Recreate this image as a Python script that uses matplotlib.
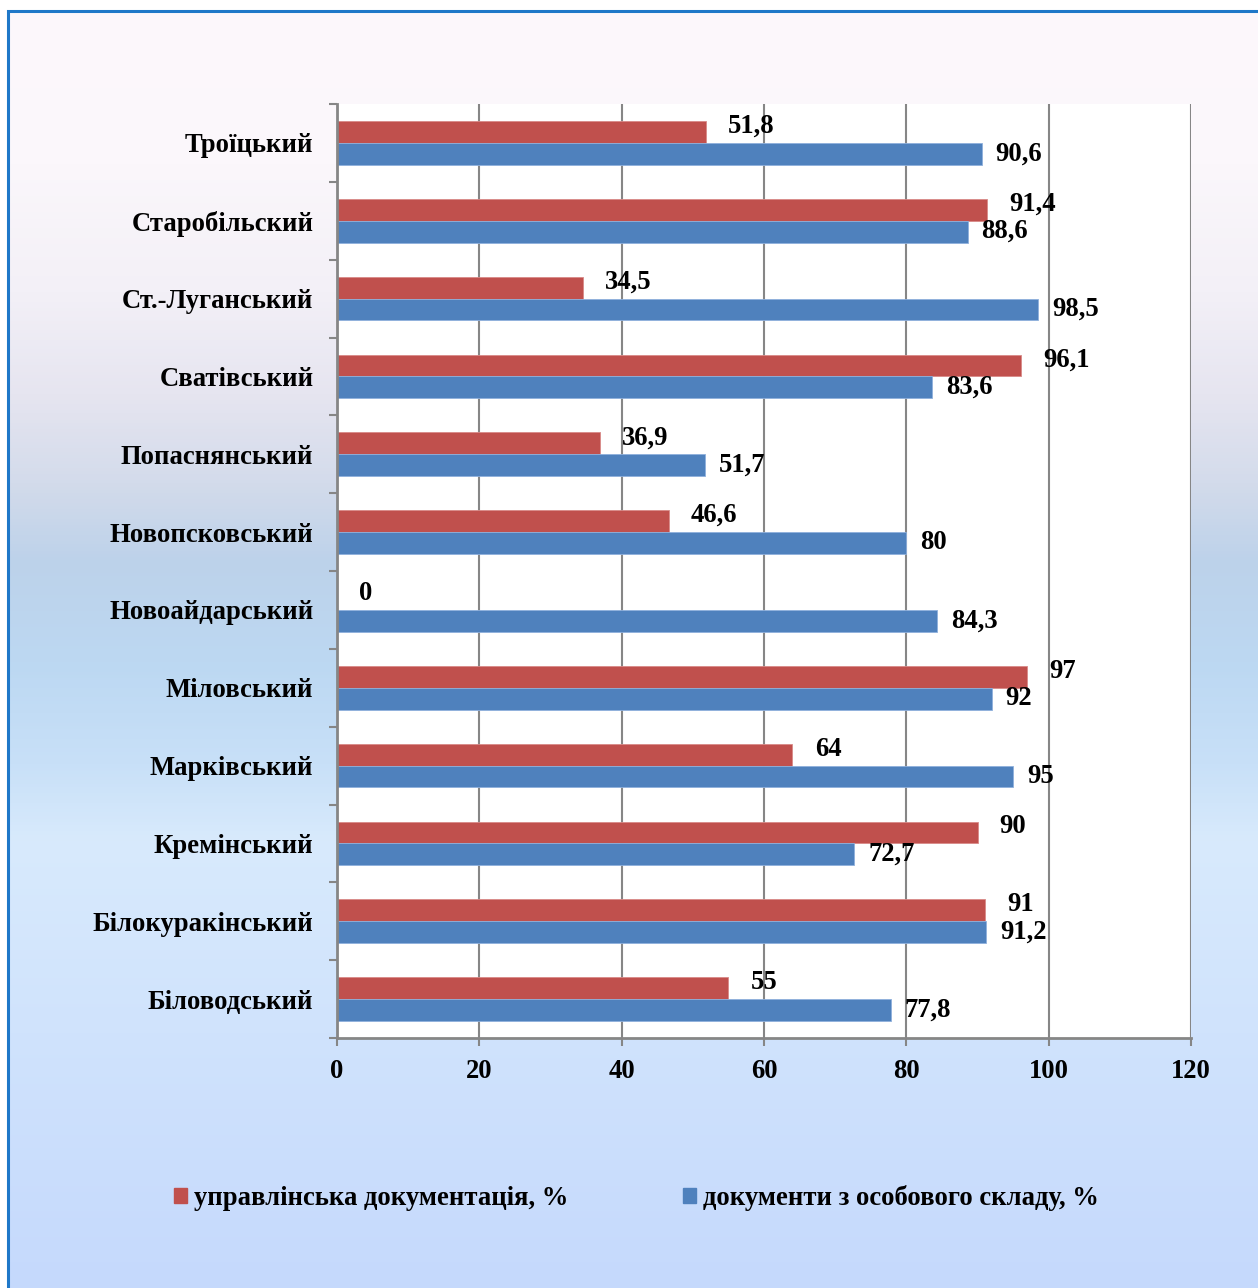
import numpy as np
import matplotlib
import matplotlib.pyplot as plt
from matplotlib.colors import to_rgb
from matplotlib.patches import Patch, Rectangle
matplotlib.use('agg')

# Districts, top to bottom as in the chart
districts = ['Троїцький', 'Старобільский', 'Ст.-Луганський', 'Сватівський',
             'Попаснянський', 'Новопсковський', 'Новоайдарський', 'Міловський',
             'Марківський', 'Кремінський', 'Білокуракінський', 'Біловодський']
# Management documentation, %
mgmt_docs = [51.8, 91.4, 34.5, 96.1, 36.9, 46.6, 0, 97, 64, 90, 91, 55]
# Personnel documents, %
staff_docs = [90.6, 88.6, 98.5, 83.6, 51.7, 80, 84.3, 92, 95, 72.7, 91.2, 77.8]
x_ticks = [0, 20, 40, 60, 80, 100, 120]
series_names = ['управлінська документація, %', 'документи з особового складу, %']

red = '#c0504d'
blue = '#4f81bd'
grid_gray = '#868686'
fs = 19.2

plt.rcParams['font.family'] = ['Liberation Serif', 'DejaVu Serif']
plt.rcParams['font.weight'] = 'bold'

W, H = 1258, 1288
fig = plt.figure(figsize=(W / 100, H / 100), dpi=100)

# Background gradient inside the blue frame
stops = [0.0, 0.12, 0.22, 0.30, 0.37, 0.43, 0.51, 0.59, 0.65, 0.80, 1.0]
cols = ['#fdf8fb', '#fbf7fb', '#f3f0f7', '#e6e5f0', '#d3dbeb', '#bdd2ea',
        '#bcd8f2', '#c8e0f8', '#d8eafc', '#d0e3fc', '#c5d9fc']
t = np.linspace(0, 1, 400)
rgb = np.array([to_rgb(c) for c in cols])
grad = np.stack([np.interp(t, stops, rgb[:, k]) for k in range(3)], axis=1)
bg = fig.add_axes([8 / W, 0, 1 - 8 / W, 1 - 11 / H], zorder=-10)
bg.imshow(grad[:, None, :], aspect='auto', extent=[0, 1, 1, 0])
bg.axis('off')
fig.patches.append(Rectangle((8 / W, -0.05), 1.1, 1.05 - 11 / H, transform=fig.transFigure,
                             fill=False, edgecolor='#1f78c8', linewidth=2.2, zorder=5))

ax = fig.add_axes([337 / W, 1 - 1038 / H, (1191 - 337) / W, (1038 - 104) / H])
ax.set_facecolor('white')

y = np.arange(len(districts))
h = 0.28
ax.barh(y - h / 2, mgmt_docs, height=h, color=red, edgecolor='#d88a88', linewidth=0.6, zorder=3)
ax.barh(y + h / 2, staff_docs, height=h, color=blue, edgecolor='#8fb0dc', linewidth=0.6, zorder=3)

def fmt(v):
    return f'{v:g}'.replace('.', ',')

for i in range(len(districts)):
    ax.annotate(fmt(mgmt_docs[i]), (mgmt_docs[i], y[i] - h / 2), xytext=(16, 4),
                textcoords='offset points', ha='left', va='center', fontsize=fs, fontweight='bold')
    ax.annotate(fmt(staff_docs[i]), (staff_docs[i], y[i] + h / 2), xytext=(10, 0),
                textcoords='offset points', ha='left', va='center', fontsize=fs, fontweight='bold')

ax.set_xlim(0, 120)
ax.set_ylim(len(districts) - 0.5, -0.5)
ax.set_xticks(x_ticks)
ax.set_xticklabels([str(v) for v in x_ticks], fontsize=fs, fontweight='bold')
ax.set_yticks(y)
ax.set_yticklabels(districts, fontsize=fs, fontweight='bold')
ax.set_yticks(np.arange(len(districts) + 1) - 0.5, minor=True)
ax.tick_params(axis='y', which='major', length=0, pad=17)
ax.tick_params(axis='y', which='minor', length=6, width=1.5, color=grid_gray)
ax.tick_params(axis='x', length=6, width=1.5, color=grid_gray, pad=9)

ax.grid(axis='x', color=grid_gray, linewidth=1.5, zorder=0)
ax.set_axisbelow(True)
for s in ['top', 'right']:
    ax.spines[s].set_visible(False)
for s in ['left', 'bottom']:
    ax.spines[s].set_color(grid_gray)
    ax.spines[s].set_linewidth(2)
    ax.spines[s].set_zorder(4)

handles = [Patch(color=red), Patch(color=blue)]
fig.legend(handles, series_names, loc='center', bbox_to_anchor=(636 / W, 1 - 1198 / H), ncol=2,
           frameon=False, fontsize=fs, handlelength=0.5, handleheight=0.5,
           handletextpad=0.25, columnspacing=4.3)

plt.savefig('out.png', dpi=100)
